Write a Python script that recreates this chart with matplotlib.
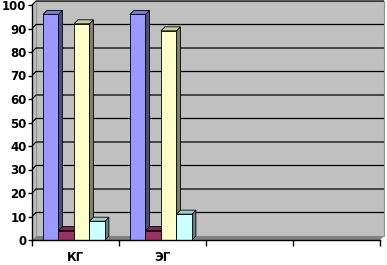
import matplotlib
matplotlib.use("Agg")
import matplotlib.pyplot as plt
from matplotlib.patches import Polygon, Rectangle
import numpy as np

categories = ['КГ', 'ЭГ', '', '']
series_blue = [96, 96]
series_maroon = [4, 4]
series_yellow = [92, 89]
series_cyan = [8, 11]
yticks = list(range(0, 101, 10))

face_colors = ['#9999FF', '#993366', '#FFFFCC', '#CCFFFF']
series = [series_blue, series_maroon, series_yellow, series_cyan]

def shade(c, f):
    r, g, b = matplotlib.colors.to_rgb(c)
    return (r * f, g * f, b * f)

fig = plt.figure(figsize=(3.87, 2.65), dpi=100)
fig.patch.set_facecolor('white')
ax = fig.add_axes([32/387, 25/265, 348/387, 235/265])
ax.set_facecolor('none')
ncat = len(categories)
ax.set_xlim(0, ncat)
ax.set_ylim(0, 100)

dx = 4/87
dy = 1.7

# walls and floor
ax.add_patch(Polygon([(0, 0), (dx, dy), (dx, 100 + dy), (0, 100)], closed=True,
                     facecolor='#C0C0C0', edgecolor='none', clip_on=False, zorder=0))
ax.add_patch(Rectangle((dx, dy), ncat, 100, facecolor='#C0C0C0', edgecolor='#909090',
                       lw=0.8, clip_on=False, zorder=0))
ax.add_patch(Polygon([(0, 0), (ncat, 0), (ncat + dx, dy), (dx, dy)], closed=True,
                     facecolor='#808080', edgecolor='none', clip_on=False, zorder=0.5))
for v in yticks[1:]:
    ax.plot([0, dx, ncat + dx], [v, v + dy, v + dy], color='black', lw=0.9,
            clip_on=False, zorder=0.6, solid_capstyle='butt')

w = 0.178
start = 0.126
z = 2
for ci in range(len(series_blue)):
    for si, s in enumerate(series):
        x0 = ci + start + si * w
        h = s[ci]
        c = face_colors[si]
        side = Polygon([(x0 + w, 0), (x0 + w + dx, dy), (x0 + w + dx, h + dy), (x0 + w, h)],
                       closed=True, facecolor=shade(c, 0.5), edgecolor='black', lw=0.6,
                       zorder=z, clip_on=False)
        top = Polygon([(x0, h), (x0 + w, h), (x0 + w + dx, h + dy), (x0 + dx, h + dy)],
                      closed=True, facecolor=shade(c, 0.8), edgecolor='black', lw=0.6,
                      zorder=z, clip_on=False)
        ax.add_patch(side)
        ax.add_patch(top)
        ax.bar(x0, h, width=w, align='edge', color=c, edgecolor='black', lw=0.6,
               zorder=z + 0.5, clip_on=False)
        z += 1

for sp in ['top', 'right']:
    ax.spines[sp].set_visible(False)
for sp in ['left', 'bottom']:
    ax.spines[sp].set_color('black')
    ax.spines[sp].set_linewidth(1.0)
    ax.spines[sp].set_zorder(50)

ax.set_yticks(yticks)
ax.set_yticklabels([str(v) for v in yticks], fontsize=8.5, fontweight='bold',
                   family='DejaVu Sans')
ax.tick_params(axis='y', direction='out', length=3, width=1, pad=1)
ax.set_xticks(np.arange(0, ncat + 1))
ax.set_xticklabels([''] * (ncat + 1))
ax.tick_params(axis='x', which='major', direction='out', length=4, width=1)
ax.set_xticks(np.arange(ncat) + 0.5, minor=True)
ax.set_xticklabels(categories, minor=True, fontsize=8.5, fontweight='bold',
                   family='DejaVu Sans')
ax.tick_params(axis='x', which='minor', length=0, pad=8)

fig.savefig('out.png', dpi=100)
